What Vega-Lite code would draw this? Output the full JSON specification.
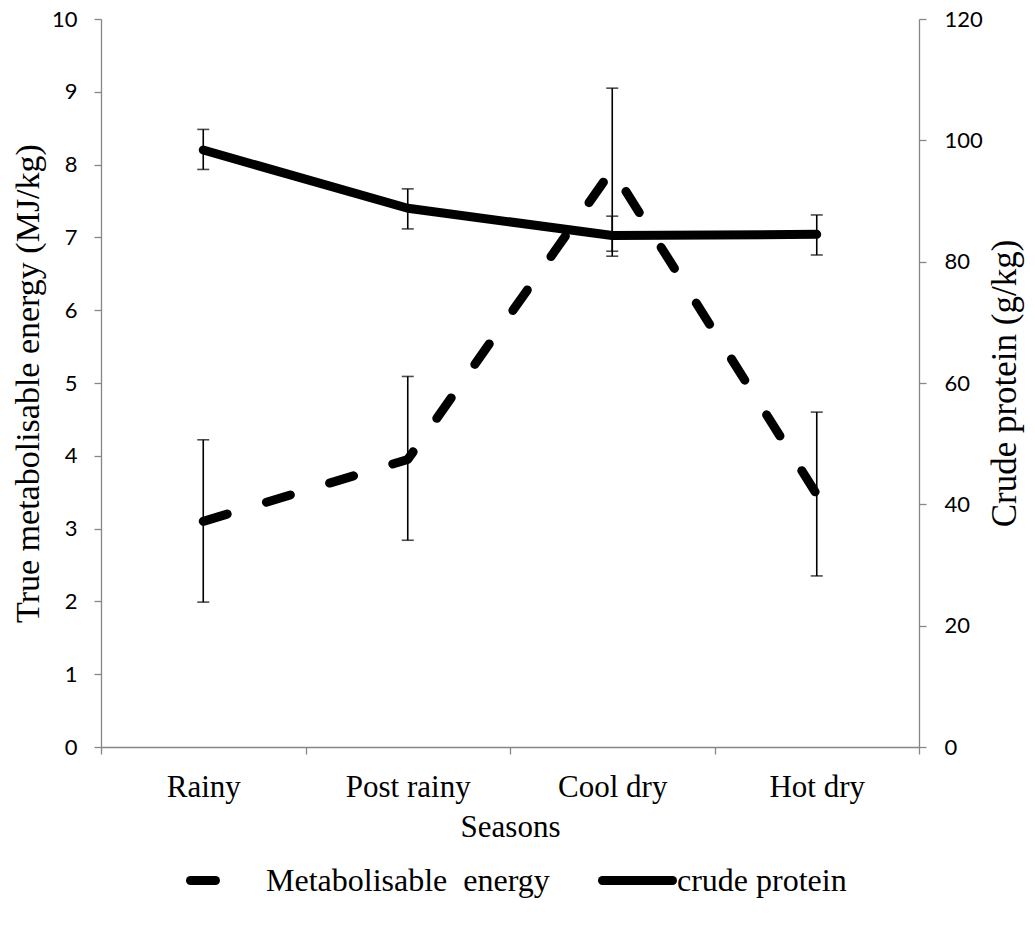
{
  "$schema": "https://vega.github.io/schema/vega-lite/v6.json",
  "width": 818,
  "height": 728,
  "autosize": {"type": "none"},
  "padding": {"left": 101, "top": 19, "right": 116, "bottom": 181},
  "background": "white",
  "config": {
    "view": {"stroke": null},
    "axis": {
      "domainColor": "#868686",
      "domainWidth": 1.3,
      "tickColor": "#868686",
      "tickWidth": 1.3,
      "tickSize": 7,
      "grid": false,
      "labelColor": "black",
      "titleColor": "black",
      "titleFont": "Liberation Serif, Times New Roman, serif",
      "titleFontWeight": "normal",
      "titleFontSize": 31
    },
    "legend": {"padding": 0}
  },
  "data": {
    "values": [
      {"season": "Rainy", "me": 3.10, "me_lo": 1.99, "me_hi": 4.22, "cp": 98.4, "cp_lo": 95.2, "cp_hi": 101.8},
      {"season": "Post rainy", "me": 3.95, "me_lo": 2.84, "me_hi": 5.09, "cp": 88.8, "cp_lo": 85.4, "cp_hi": 92.0},
      {"season": "Cool dry", "me": 7.93, "me_lo": 6.81, "me_hi": 9.05, "cp": 84.3, "cp_lo": 80.9, "cp_hi": 87.5},
      {"season": "Hot dry", "me": 3.47, "me_lo": 2.35, "me_hi": 4.60, "cp": 84.5, "cp_lo": 81.1, "cp_hi": 87.7}
    ]
  },
  "encoding": {
    "x": {
      "field": "season",
      "type": "nominal",
      "sort": ["Rainy", "Post rainy", "Cool dry", "Hot dry"],
      "bandPosition": 0.5,
      "scale": {"type": "band", "paddingInner": 0, "paddingOuter": 0},
      "axis": {
        "title": "Seasons",
        "labelAngle": 0,
        "tickBand": "extent",
        "labelFont": "Liberation Serif, Times New Roman, serif",
        "labelFontSize": 31,
        "labelPadding": 18,
        "titlePadding": 10
      }
    }
  },
  "layer": [
    {
      "encoding": {
        "y": {
          "type": "quantitative",
          "scale": {"domain": [0, 10]},
          "axis": {
            "title": "True metabolisable energy (MJ/kg)",
            "titleFontSize": 34,
            "orient": "left",
            "values": [0, 1, 2, 3, 4, 5, 6, 7, 8, 9, 10],
            "labelFont": "Lato",
            "labelFontSize": 22,
            "labelPadding": 17,
            "titlePadding": 6
          }
        }
      },
      "layer": [
        {
          "mark": {"type": "rule", "color": "black", "strokeWidth": 1.6},
          "encoding": {"y": {"field": "me_lo", "type": "quantitative"}, "y2": {"field": "me_hi"}}
        },
        {
          "mark": {"type": "tick", "color": "black", "thickness": 1.6, "size": 12},
          "encoding": {"y": {"field": "me_lo", "type": "quantitative"}}
        },
        {
          "mark": {"type": "tick", "color": "black", "thickness": 1.6, "size": 12},
          "encoding": {"y": {"field": "me_hi", "type": "quantitative"}}
        },
        {
          "mark": {"type": "line", "color": "black", "strokeWidth": 9, "strokeCap": "round", "strokeJoin": "round"},
          "encoding": {
            "y": {"field": "me", "type": "quantitative"},
            "strokeDash": {
              "datum": "Metabolisable\u00a0 energy",
              "type": "nominal",
              "scale": {"range": [[25, 41]]},
              "legend": {
                "orient": "none",
                "legendX": 85,
                "legendY": 826,
                "title": null,
                "symbolType": "stroke",
                "symbolSize": 3844,
                "symbolStrokeWidth": 9,
                "symbolStrokeColor": "black",
                "labelFont": "Liberation Serif, Times New Roman, serif",
                "labelFontSize": 32,
                "labelColor": "black",
                "labelOffset": 9,
                "labelLimit": 400,
                "encode": {"symbols": {"update": {"strokeCap": {"value": "round"}}}}
              }
            }
          }
        }
      ]
    },
    {
      "encoding": {
        "y": {
          "type": "quantitative",
          "scale": {"domain": [0, 120]},
          "axis": {
            "title": "Crude protein (g/kg)",
            "titleFontSize": 35,
            "orient": "right",
            "titleAngle": 270,
            "values": [0, 20, 40, 60, 80, 100, 120],
            "labelFont": "Lato",
            "labelFontSize": 22,
            "labelPadding": 18,
            "titlePadding": 40
          }
        }
      },
      "layer": [
        {
          "mark": {"type": "rule", "color": "black", "strokeWidth": 1.6},
          "encoding": {"y": {"field": "cp_lo", "type": "quantitative"}, "y2": {"field": "cp_hi"}}
        },
        {
          "mark": {"type": "tick", "color": "black", "thickness": 1.6, "size": 12},
          "encoding": {"y": {"field": "cp_lo", "type": "quantitative"}}
        },
        {
          "mark": {"type": "tick", "color": "black", "thickness": 1.6, "size": 12},
          "encoding": {"y": {"field": "cp_hi", "type": "quantitative"}}
        },
        {
          "mark": {"type": "line", "strokeWidth": 9, "strokeCap": "round", "strokeJoin": "round"},
          "encoding": {
            "y": {"field": "cp", "type": "quantitative"},
            "color": {
              "datum": "crude protein",
              "type": "nominal",
              "scale": {"range": ["black"]},
              "legend": {
                "orient": "none",
                "legendX": 497,
                "legendY": 822,
                "title": null,
                "symbolType": "stroke",
                "symbolSize": 4900,
                "symbolStrokeWidth": 9,
                "labelFont": "Liberation Serif, Times New Roman, serif",
                "labelFontSize": 32,
                "labelColor": "black",
                "labelOffset": 0,
                "labelLimit": 400,
                "encode": {"symbols": {"update": {"strokeCap": {"value": "round"}}}}
              }
            }
          }
        }
      ]
    }
  ],
  "resolve": {"scale": {"y": "independent"}}
}
